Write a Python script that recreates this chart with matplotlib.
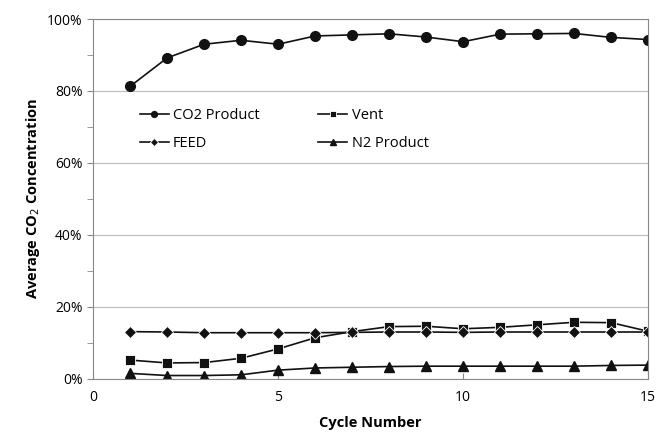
import matplotlib
matplotlib.use('Agg')
import matplotlib.pyplot as plt
from matplotlib.ticker import MultipleLocator, PercentFormatter

# Dados (concentração média de CO2, %)
ciclos = list(range(1, 16))
co2_produto = [81.3, 89.2, 93.0, 94.1, 93.0, 95.3, 95.6, 95.9, 95.0, 93.7, 95.8, 95.9, 96.0, 94.9, 94.3]
vent = [5.2, 4.4, 4.5, 5.7, 8.3, 11.4, 13.1, 14.5, 14.6, 13.9, 14.3, 15.0, 15.7, 15.6, 13.2]
feed = [13.1, 13.0, 12.8, 12.8, 12.8, 12.8, 12.9, 13.0, 13.0, 12.9, 13.0, 13.0, 13.0, 13.0, 13.0]
n2_produto = [1.5, 0.9, 0.9, 1.1, 2.4, 3.0, 3.2, 3.4, 3.5, 3.5, 3.5, 3.5, 3.5, 3.7, 3.8]

plt.rcParams['font.family'] = ['Open Sans', 'DejaVu Sans']

fig = plt.figure(figsize=(6.56, 4.43), dpi=100)
ax = fig.add_axes([0.142, 0.145, 0.846, 0.812])

cor = '#111111'
l_co2, = ax.plot(ciclos, co2_produto, marker='o', color=cor, lw=1.2, ms=7, label='CO2 Product')
l_vent, = ax.plot(ciclos, vent, marker='s', color=cor, lw=1.2, ms=7, mec='white', mew=0.6, label='Vent')
l_feed, = ax.plot(ciclos, feed, marker='D', color=cor, lw=1.2, ms=6.5, mec='white', mew=0.6, label='FEED')
l_n2, = ax.plot(ciclos, n2_produto, marker='^', color=cor, lw=1.2, ms=7, label='N2 Product')

ax.set_xlim(0, 15)
ax.set_ylim(0, 100)
ax.xaxis.set_major_locator(MultipleLocator(5))
ax.yaxis.set_major_locator(MultipleLocator(20))
ax.yaxis.set_minor_locator(MultipleLocator(10))
ax.yaxis.set_major_formatter(PercentFormatter(decimals=0))
ax.tick_params(axis='x', direction='in', length=4, color='#888888', labelsize=10, pad=8)
ax.tick_params(axis='y', which='both', direction='out', length=4, color='#888888', labelsize=10)
ax.grid(axis='y', color='#bbbbbb', lw=0.8)
ax.set_axisbelow(True)
for s in ax.spines.values():
    s.set_color('#888888')

ax.set_xlabel('Cycle Number', fontsize=10.5, fontweight='bold', labelpad=8)
ax.set_ylabel('Average CO$_2$ Concentration', fontsize=10.5, fontweight='bold')

# Legenda sem moldura em duas colunas (ordem por linhas)
ax.legend([l_co2, l_feed, l_vent, l_n2], ['CO2 Product', 'FEED', 'Vent', 'N2 Product'],
          loc='upper left', bbox_to_anchor=(0.06, 0.79), ncol=2, frameon=False,
          fontsize=10.5, markerscale=0.6, handlelength=2.0, handletextpad=0.3,
          columnspacing=4.0, labelspacing=0.9)

fig.savefig('out.png', dpi=100)
